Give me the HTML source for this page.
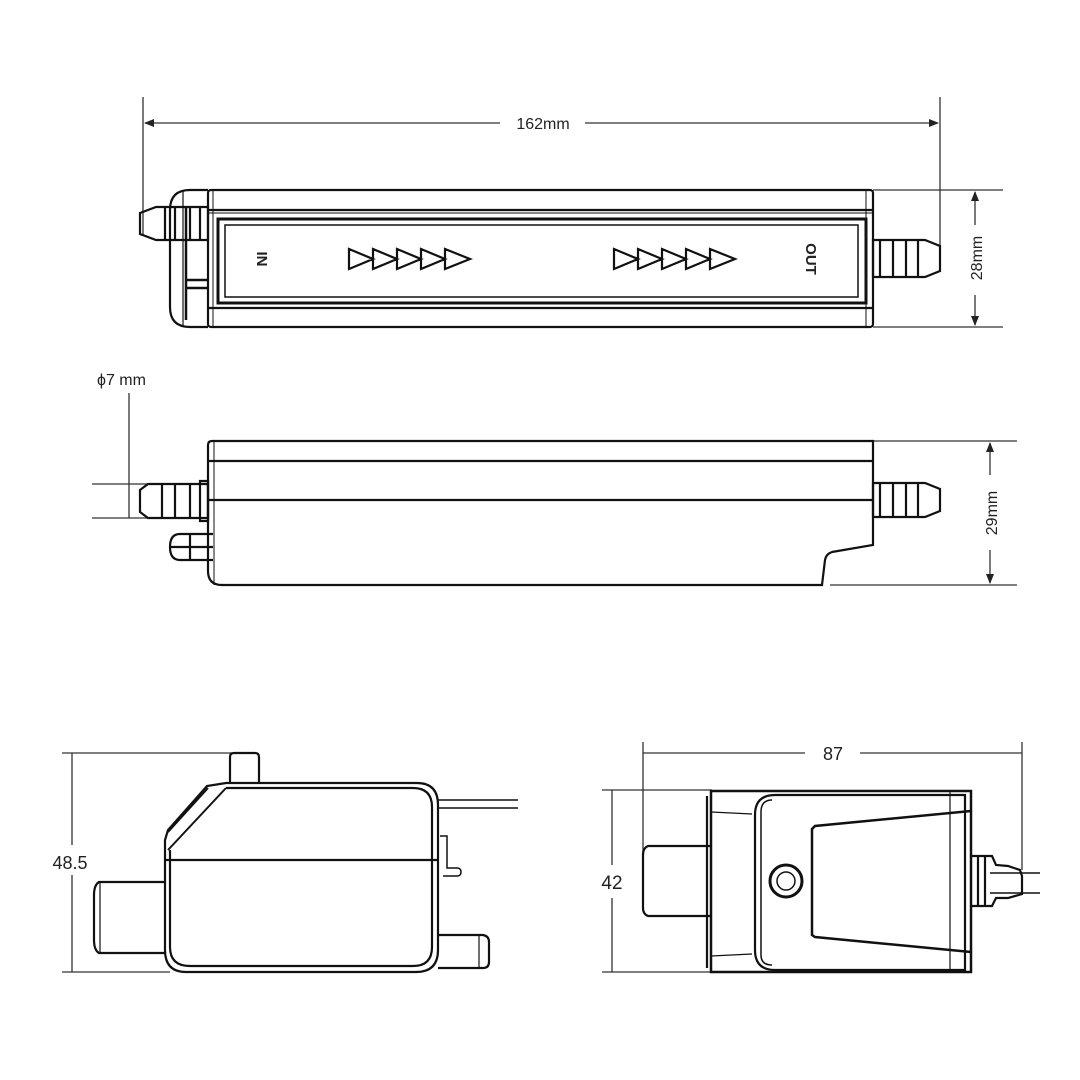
<!DOCTYPE html>
<html><head><meta charset="utf-8"><style>
html,body{margin:0;padding:0;background:#fff}
svg{display:block}
text{font-family:"Liberation Sans",sans-serif;fill:#222}
</style></head><body>
<svg width="1080" height="1080" viewBox="0 0 1080 1080" xmlns="http://www.w3.org/2000/svg">
<defs>
<marker id="ar" markerWidth="10" markerHeight="8" refX="9" refY="4" orient="auto-start-reverse" markerUnits="userSpaceOnUse"><path d="M0,0 L10,4 L0,8 Z" fill="#222"/></marker>
</defs>
<g stroke="#333" fill="none" stroke-width="1.3">
<line x1="143" y1="97" x2="143" y2="236"/>
<line x1="940" y1="97" x2="940" y2="245"/>
<line x1="145" y1="123" x2="500" y2="123" marker-start="url(#ar)"/>
<line x1="585" y1="123" x2="938" y2="123" marker-end="url(#ar)"/>
<line x1="873" y1="190" x2="1003" y2="190"/>
<line x1="873" y1="327" x2="1003" y2="327"/>
<line x1="975" y1="192" x2="975" y2="225" marker-start="url(#ar)"/>
<line x1="975" y1="295" x2="975" y2="325" marker-end="url(#ar)"/>
</g>
<text x="543" y="129" font-size="16" text-anchor="middle">162mm</text>
<text transform="translate(982,258) rotate(-90)" font-size="16" text-anchor="middle">28mm</text>

<g stroke="#111" fill="none" stroke-width="2.2">
<rect x="208" y="190" width="665" height="137" rx="3"/>
<line x1="208" y1="210" x2="873" y2="210"/>
<line x1="208" y1="213" x2="873" y2="213" stroke-width="1"/>
<rect x="218" y="219" width="648" height="84" stroke-width="3"/>
<rect x="225" y="225" width="633" height="72" stroke-width="1.5"/>
<line x1="208" y1="308" x2="873" y2="308"/>
<line x1="213" y1="190" x2="213" y2="327" stroke-width="1"/>
<line x1="866" y1="190" x2="866" y2="327" stroke-width="1"/>
<path d="M208,190 L190,190 Q170,190 170,210 L170,307 Q170,327 190,327 L208,327"/>
<path d="M183,190 L183,327" stroke-width="1.2"/>
<path d="M186,207 L186,320 M186,288 L208,288 M186,280 L208,280" stroke-width="2.5"/>
<path d="M140,213 L156,207 L208,207 L208,240 L156,240 L140,234 Z"/>
<path d="M165,207 L165,240 M175,207 L175,240 M190,207 L190,240 M200,207 L200,240"/>
<path d="M873,240 L925,240 L940,246 L940,271 L925,277 L873,277 Z"/>
<path d="M880,240 L880,277 M893,240 L893,277 M906,240 L906,277 M918,240 L918,277"/>
<g stroke-width="2.2">
<path d="M349,249 L373,259 L349,269 Z M373,249 L397,259 L373,269 Z M397,249 L421,259 L397,269 Z M421,249 L445,259 L421,269 Z M445,249 L470,259 L445,269 Z"/>
<path d="M614,249 L638,259 L614,269 Z M638,249 L662,259 L638,269 Z M662,249 L686,259 L662,269 Z M686,249 L710,259 L686,269 Z M710,249 L735,259 L710,269 Z"/>
</g>
</g>
<text transform="translate(261,259) rotate(90)" font-size="15" font-weight="bold" text-anchor="middle" dominant-baseline="middle">IN</text>
<text transform="translate(810,259) rotate(90)" font-size="15" font-weight="bold" text-anchor="middle" dominant-baseline="middle">OUT</text>

<g stroke="#333" fill="none" stroke-width="1.3">
<line x1="129" y1="393" x2="129" y2="518"/>
<line x1="92" y1="484" x2="208" y2="484"/>
<line x1="92" y1="518" x2="208" y2="518"/>
<line x1="873" y1="441" x2="1017" y2="441"/>
<line x1="830" y1="585" x2="1017" y2="585"/>
<line x1="990" y1="443" x2="990" y2="475" marker-start="url(#ar)"/>
<line x1="990" y1="550" x2="990" y2="583" marker-end="url(#ar)"/>
</g>
<text x="97" y="385" font-size="16">ϕ7 mm</text>
<text transform="translate(997,513) rotate(-90)" font-size="16" text-anchor="middle">29mm</text>
<g stroke="#111" fill="none" stroke-width="2.2">
<path d="M212,441 L873,441 L873,545 L832,552 Q826,554 825,560 L822,585 L222,585 Q208,585 208,571 L208,445 Q208,441 212,441 Z"/>
<line x1="208" y1="461" x2="873" y2="461"/>
<line x1="208" y1="500" x2="873" y2="500"/>
<line x1="214" y1="441" x2="214" y2="585" stroke-width="1"/>
<path d="M140,490 L148,484 L208,484 L208,518 L148,518 L140,512 Z"/>
<path d="M162,484 L162,518 M175,484 L175,518 M190,484 L190,518 M200,481 L200,521 L208,521 L208,481 Z"/>
<path d="M873,483 L925,483 L940,489 L940,511 L925,517 L873,517 Z"/>
<path d="M880,483 L880,517 M893,483 L893,517 M906,483 L906,517 M918,483 L918,517"/>
<path d="M213,534 L180,534 Q170,534 170,547 Q170,560 180,560 L213,560 M170,547 L213,547 M190,534 L190,560"/>
</g>

<g stroke="#333" fill="none" stroke-width="1.3">
<line x1="62" y1="753" x2="232" y2="753"/>
<line x1="62" y1="972" x2="170" y2="972"/>
<line x1="72" y1="753" x2="72" y2="845"/>
<line x1="72" y1="875" x2="72" y2="972"/>
</g>
<text x="70" y="869" font-size="18" text-anchor="middle">48.5</text>
<g stroke="#111" fill="none" stroke-width="2.2">
<path d="M230,783 L230,757 Q230,753 234,753 L255,753 Q259,753 259,757 L259,783"/>
<path d="M226,783 L417,783 Q438,783 438,805 L438,950 Q438,972 416,972 L186,972 Q165,972 165,950 L165,840 L168,830 L207,786 L226,783 Z"/>
<path d="M226,788 L413,788 Q432,788 432,807 L432,947 Q432,966 413,966 L190,966 Q170,966 170,947 L170,850"/>
<path d="M168,832 L208,788 M168,850 L226,788" stroke-width="2"/>
<line x1="165" y1="860" x2="438" y2="860"/>
<path d="M165,882 L99,882 Q94,885 94,895 L94,940 Q94,950 99,953 L165,953"/>
<line x1="100" y1="882" x2="100" y2="953" stroke-width="1.2"/>
<path d="M438,935 L483,935 Q489,936 489,942 L489,962 Q489,968 483,968 L438,968"/>
<line x1="479" y1="935" x2="479" y2="968" stroke-width="1.2"/>
<path d="M438,800 L518,800 M438,808 L518,808" stroke-width="1.5"/>
<path d="M440,836 L447,836 L447,868 L457,868 Q461,868 461,872 Q461,876 457,876 L443,876" stroke-width="1.5"/>
</g>

<g stroke="#333" fill="none" stroke-width="1.3">
<line x1="643" y1="742" x2="643" y2="900"/>
<line x1="1022" y1="742" x2="1022" y2="870"/>
<line x1="643" y1="753" x2="805" y2="753"/>
<line x1="860" y1="753" x2="1022" y2="753"/>
<line x1="602" y1="790" x2="712" y2="790"/>
<line x1="602" y1="972" x2="712" y2="972"/>
<line x1="612" y1="790" x2="612" y2="865"/>
<line x1="612" y1="898" x2="612" y2="972"/>
</g>
<text x="833" y="760" font-size="18" text-anchor="middle">87</text>
<text x="612" y="889" font-size="19" text-anchor="middle">42</text>
<g stroke="#111" fill="none" stroke-width="2.2">
<rect x="711" y="791" width="260" height="181" stroke-width="2.5"/>
<line x1="707" y1="796" x2="707" y2="968"/>
<path d="M775,795 L965,795 L965,970 L775,970 Q755,970 755,950 L755,815 Q755,795 775,795 Z"/>
<path d="M772,800 Q761,800 761,812 L761,955 Q761,965 772,965" stroke-width="1.5"/>
<path d="M711,812 L752,814 M711,956 L752,954" stroke-width="1.2"/>
<line x1="950" y1="791" x2="950" y2="972" stroke-width="1.2"/>
<path d="M971,811 L815,826 L812,829 L812,935 L815,937 L971,952" stroke-width="2.5"/>
<circle cx="786" cy="881" r="16" stroke-width="3"/>
<circle cx="786" cy="881" r="9" stroke-width="1.5"/>
<path d="M711,846 L648,846 Q643,848 643,855 L643,908 Q643,914 648,916 L711,916"/>
<path d="M972,856 L992,856 L996,865 L1008,866 L1020,870 L1022,876 L1022,894 L1008,898 L996,898 L992,906 L972,906"/>
<path d="M978,856 L978,906 M985,856 L985,906"/>
<path d="M990,873 L1040,873 M990,893 L1040,893" stroke-width="1.5"/>
</g>
</svg>
</body></html>
